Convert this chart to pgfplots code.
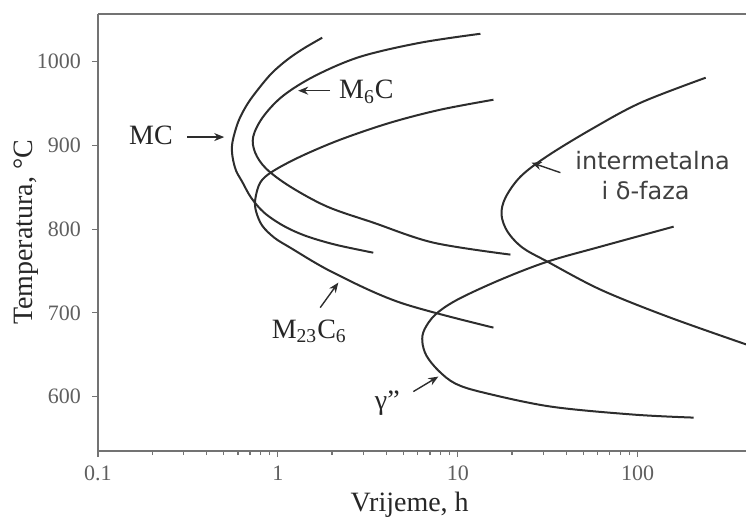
\documentclass[border=0pt]{standalone}
\usepackage{fontspec}
\setmainfont{Liberation Serif}
\newfontfamily\sansf{DejaVu Sans}
\usepackage{pgfplots}
\pgfplotsset{compat=1.18}
\usetikzlibrary{arrows.meta}
\definecolor{curve}{RGB}{45,45,45}
\definecolor{axisgray}{RGB}{115,115,115}
\definecolor{ticktext}{RGB}{95,95,95}

\begin{document}
\begin{tikzpicture}[
  ttt/.style={curve, line width=1pt, smooth, tension=0.55},
  lab/.style={font=\fontsize{14}{16}\selectfont, text=black!85},
  arr/.style={-{Stealth[length=5pt,width=4pt]}, curve, line width=0.7pt},
]
\begin{axis}[
  name=ax,
  scale only axis,
  width=324pt, height=218.5pt,
  xmode=log, xmin=0.1, xmax=400,
  ymin=535, ymax=1057,
  xtick={0.1,1,10,100}, xticklabels={0.1,1,10,100},
  ytick={600,700,800,900,1000},
  axis x line*=box, axis y line*=left,
  xtick pos=left, ytick pos=left,
  tick align=outside,
  major tick length=3pt, minor tick length=2pt,
  every tick/.style={axisgray, line width=0.6pt},
  axis line style={axisgray, line width=0.9pt},
  tick label style={font=\fontsize{11}{13}\selectfont, text=ticktext},
  yticklabel style={xshift=-2pt, /pgf/number format/1000 sep={}},
  xticklabel style={yshift=-1pt},
  /pgf/number format/assume math mode=true,
  xlabel={Vrijeme, h}, ylabel={Temperatura, °C},
  label style={font=\fontsize{14}{16}\selectfont, text=black!85},
  xlabel style={at={(axis description cs:0.481,-0.124)}, anchor=center},
  ylabel style={at={(axis description cs:-0.111,0.5)}, anchor=center},
]

% MC
\addplot[ttt] coordinates {
  (1.764,1028.7) (1.383,1015.5) (1.127,1002.4) (0.930,986.9) (0.797,970.1)
  (0.684,951.0) (0.612,932.0) (0.575,915.0) (0.556,900.0) (0.560,886.0)
  (0.585,870.0) (0.633,856.7) (0.710,837.6) (0.839,819.7) (1.070,804.2)
  (1.419,792.2) (2.084,781.5) (3.391,771.9)
};
% M6C
\addplot[ttt] coordinates {
  (13.36,1033.4) (6.19,1022.7) (2.871,1006.0) (1.613,983.3) (1.070,959.4)
  (0.828,934.3) (0.729,910.5) (0.748,891.3) (0.861,872.2) (1.171,850.8)
  (1.881,826.9) (3.391,807.8) (7.316,783.9) (19.62,769.6)
};
% M23C6
\addplot[ttt] coordinates {
  (15.78,954.6) (8.00,942.7) (4.217,927.2) (2.222,906.9) (1.331,886.6)
  (0.930,868.7) (0.797,855.5) (0.748,835.2) (0.757,820.9) (0.818,804.2)
  (0.954,789.9) (1.171,777.9) (2.031,748.1) (4.794,712.2) (15.78,682.4)
};
% intermetalna i delta-faza
\addplot[ttt] coordinates {
  (238.8,980.9) (103.8,951.0) (54.7,918.8) (31.1,886.6) (22.3,862.7)
  (18.4,837.6) (17.5,817.3) (18.9,797.0) (22.9,777.9) (31.5,761.2)
  (62.1,727.8) (146.7,695.5) (403.6,662.1)
};
% gamma''
\addplot[ttt] coordinates {
  (158.4,803.0) (62.1,779.1) (31.5,761.2) (17.3,739.7) (9.95,715.8)
  (7.50,697.9) (6.52,680.0) (6.35,665.7) (6.69,649.0) (7.80,631.1)
  (9.70,615.5) (13.89,604.8) (32.8,588.1) (94.9,578.5) (204.7,574.9)
};

\node[lab] at (axis cs:0.197,912) {MC};
\draw[arr] (axis cs:0.313,910) -- (axis cs:0.503,910);

\node[lab] at (axis cs:3.10,964) {M\textsubscript{6}C};
\draw[arr] (axis cs:1.954,965.4) -- (axis cs:1.297,965.4);

\node[lab] at (axis cs:1.494,677.6) {M\textsubscript{23}C\textsubscript{6}};
\draw[arr] (axis cs:1.719,706.3) -- (axis cs:2.166,736.1);

\node[lab] at (axis cs:4.057,592) {γ''};
\draw[arr] (axis cs:5.66,606.0) -- (axis cs:7.80,623.9);

\node[font=\sansf\fontsize{12}{14}\selectfont, text=black!75] at (axis cs:121,881.8) {intermetalna};
\node[font=\sansf\fontsize{12}{14}\selectfont, text=black!75] at (axis cs:110.7,846.0) {i δ-faza};
\draw[arr] (axis cs:37.2,867.5) -- (axis cs:25.7,879.4);
\end{axis}
\pgfresetboundingbox
\path ([xshift=-49pt,yshift=-35pt]ax.south west) rectangle ([yshift=7pt]ax.north east);
\end{tikzpicture}
\end{document}
